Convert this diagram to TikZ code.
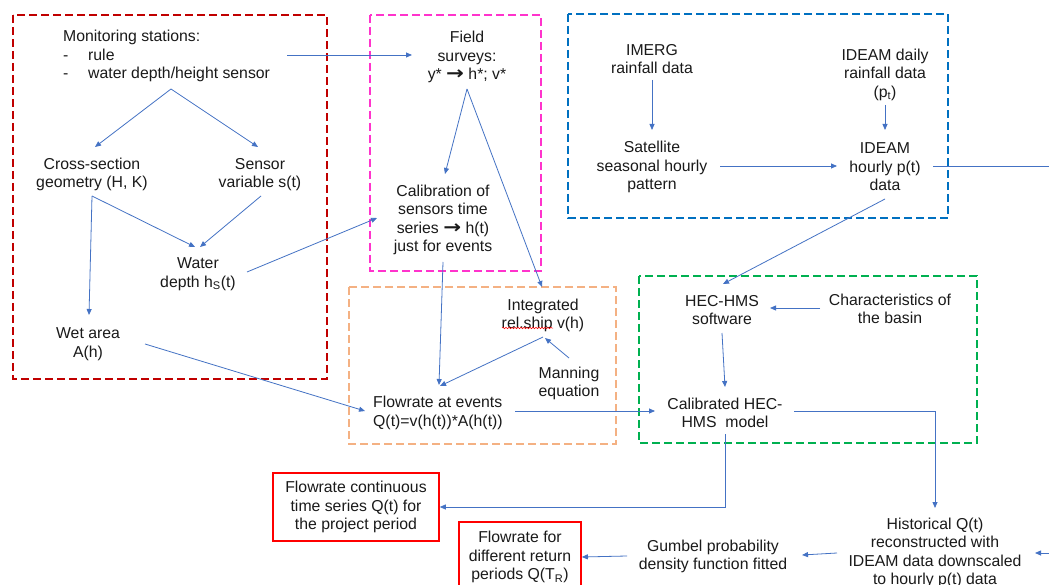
\documentclass[tikz,border=0pt]{standalone}
\usepackage{fontspec}
\usepackage{graphicx}
\setmainfont{Liberation Sans}
\newfontfamily\arrowfont{DejaVu Sans}
\newcommand{\bigarr}{\raisebox{0.3pt}{\scalebox{1.35}[1.15]{\arrowfont\bfseries →}}}
\usetikzlibrary{arrows.meta,calc,decorations.pathmorphing}
\definecolor{arr}{HTML}{4472C4}
\definecolor{gred}{HTML}{C00000}
\definecolor{gmag}{HTML}{FF33CC}
\definecolor{gblue}{HTML}{0070C0}
\definecolor{gorange}{HTML}{F4B183}
\definecolor{ggreen}{HTML}{00B050}
\definecolor{txt}{HTML}{1A1A1A}
\begin{document}
\begin{tikzpicture}[x=1pt,y=-1pt,
  lbl/.style={align=center,inner sep=0pt,font=\fontsize{15.8}{18.5}\selectfont,text=txt},
  conn/.style={draw=arr,line width=0.8pt,-{Triangle[length=6pt,width=5pt]}},
  plain/.style={draw=arr,line width=0.8pt},
  grp/.style={line width=2.4pt,dash pattern=on 8pt off 4pt},
  outbox/.style={lbl,draw=red,line width=1.6pt}]
\useasboundingbox (0,0) rectangle (1049,585);
\fill[white] (0,0) rectangle (1049,585);

% group boxes
\draw[grp,draw=gred] (13,15) rectangle (327,379);
\draw[grp,draw=gmag] (370,15) rectangle (541,271);
\draw[grp,draw=gblue] (568,14) rectangle (948,218);
\draw[grp,draw=gorange] (349,287) rectangle (616,444);
\draw[grp,draw=ggreen] (639,276) rectangle (977,443);

% nodes
\node[lbl,align=left,anchor=west] (mon) at (63,56) {Monitoring stations:\\\makebox[25pt][l]{-}rule\\\makebox[25pt][l]{-}water depth/height sensor};
\node[lbl] (cross) at (92,174.5) {Cross-section\\geometry (H, K)};
\node[lbl] (sensor) at (260,174.5) {Sensor\\variable s(t)};
\node[lbl] (water) at (198,274) {Water\\depth h\textsubscript{S}(t)};
\node[lbl] (wet) at (88,344) {Wet area\\A(h)};
\node[lbl] (field) at (467,57) {Field\\surveys:\\y* \bigarr\ h*; v*};
\node[lbl] (calib) at (443,220) {Calibration of\\sensors time\\series \bigarr\ h(t)\\just for events};
\node[lbl] (imerg) at (652,59) {IMERG\\rainfall data};
\node[lbl] (sat) at (652,167) {Satellite\\seasonal hourly\\pattern};
\node[lbl] (ideamd) at (885,74.5) {IDEAM daily\\rainfall data\\(p\textsubscript{t})};
\node[lbl] (ideamh) at (885,167) {IDEAM\\hourly p(t)\\data};
\node[lbl] (integ) at (543,315.5) {Integrated\\rel.ship v(h)};
\node[lbl] (manning) at (569,383.5) {Manning\\equation};
\node[lbl,align=left,anchor=west] (flowev) at (373,413) {Flowrate at events\\Q(t)=v(h(t))*A(h(t))};
\node[lbl] (hecsw) at (722,310) {HEC-HMS\\software};
\node[lbl] (charac) at (890,309) {Characteristics of\\the basin};
\node[lbl] (calhec) at (725,413) {Calibrated HEC-\\HMS~~model};
\node[outbox,minimum width=166pt,minimum height=68pt] (flowcont) at (356,507) {Flowrate continuous\\time series Q(t) for\\the project period};
\node[outbox,minimum width=122pt,minimum height=70pt] (flowret) at (520,557) {Flowrate for\\different return\\periods Q(T\textsubscript{R})};
\node[lbl] (gumbel) at (713,556.5) {Gumbel probability\\density function fitted};
\node[lbl] (hist) at (935,553) {Historical Q(t)\\reconstructed with\\IDEAM data downscaled\\to hourly p(t) data};

\coordinate (redgeA) at (1049,166);
\coordinate (redgeB) at (1049,553);

% spell-check underline
\draw[red,line width=0.5pt,decorate,decoration={snake,amplitude=0.8pt,segment length=3pt}]
  ($(integ)+(-41,12.5)$) -- ($(integ)+(10,12.5)$);

% connectors
\draw[conn] ($(mon.west)+(224,-1)$) -- ($(field)+(-55,-2)$);
\draw[conn] ($(mon.west)+(108,33)$) -- ($(cross)+(3,-27.5)$);
\draw[conn] ($(mon.west)+(108,33)$) -- ($(sensor)+(-2,-27.5)$);
\draw[conn] ($(cross)+(0,21.5)$) -- ($(water)+(-3,-27)$);
\draw[conn] ($(cross)+(0,21.5)$) -- ($(wet)+(1,-29)$);
\draw[conn] ($(sensor)+(1,21.5)$) -- ($(water)+(2,-27)$);
\draw[conn] ($(water)+(49,-2)$) -- ($(calib)+(-66,-2)$);
\draw[conn] ($(wet)+(57,0)$) -- ($(flowev.west)+(-8,-2)$);
\draw[conn] ($(field)+(0,32)$) -- ($(calib)+(2,-46)$);
\draw[conn] ($(field)+(0,32)$) -- ($(integ)+(-1,-28.5)$);
\draw[conn] ($(calib)+(0,42)$) -- ($(flowev.west)+(66,-28)$);
\draw[conn] ($(manning)+(0,-25.5)$) -- ($(integ)+(2,22.5)$);
\draw[conn] ($(integ)+(0,21.5)$) -- ($(flowev.west)+(67,-27)$);
\draw[conn] ($(flowev.west)+(142,-2)$) -- ($(calhec)+(-70,-2)$);
\draw[conn] ($(imerg)+(0,21)$) -- ($(sat)+(0,-37)$);
\draw[conn] ($(sat)+(68,-1)$) -- ($(ideamh)+(-48,-1)$);
\draw[conn] ($(ideamd)+(0,30.5)$) -- ($(ideamh)+(0,-37)$);
\draw[plain] ($(ideamh)+(48,-1)$) -- (redgeA);
\draw[conn] ($(ideamh)+(0,32)$) -- ($(hecsw)+(1,-26)$);
\draw[conn] ($(charac)+(-70,-1)$) -- ($(hecsw)+(48,-2)$);
\draw[conn] ($(hecsw)+(0,23)$) -- ($(calhec)+(0,-26)$);
\draw[conn] ($(calhec)+(69,-2)$) -| ($(hist)+(0,-45)$);
\draw[conn] ($(calhec)+(0,21)$) |- (flowcont.east);
\draw[conn] ($(hist)+(-98,0)$) -- ($(gumbel)+(89,-1.5)$);
\draw[conn] ($(gumbel)+(-86,-0.5)$) -- (flowret.east);
\draw[conn] (redgeB) -- ($(hist)+(100,0)$);
\end{tikzpicture}
\end{document}
